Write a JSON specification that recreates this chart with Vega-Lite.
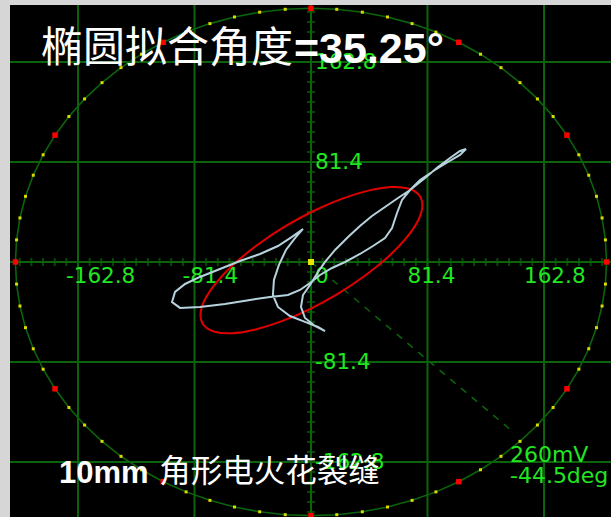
{
  "$schema": "https://vega.github.io/schema/vega-lite/v6.json",
  "width": 601,
  "height": 512,
  "autosize": {"type": "none"},
  "padding": {"left": 10, "top": 5, "right": 0, "bottom": 0},
  "background": "#d6d6d6",
  "config": {"view": {"stroke": null, "fill": "#000000"}, "axis": {"disable": true}},
  "datasets": {
    "grid": [{"v": -162.8}, {"v": -81.4}, {"v": 0}, {"v": 81.4}, {"v": 162.8}],
    "ticks": [{"v":-203.5},{"v":-195.36},{"v":-187.22},{"v":-179.08},{"v":-170.94},{"v":-162.8},{"v":-154.66},{"v":-146.52},{"v":-138.38},{"v":-130.24},{"v":-122.1},{"v":-113.96},{"v":-105.82},{"v":-97.68},{"v":-89.54},{"v":-81.4},{"v":-73.26},{"v":-65.12},{"v":-56.98},{"v":-48.84},{"v":-40.7},{"v":-32.56},{"v":-24.42},{"v":-16.28},{"v":-8.14},{"v":0},{"v":8.14},{"v":16.28},{"v":24.42},{"v":32.56},{"v":40.7},{"v":48.84},{"v":56.98},{"v":65.12},{"v":73.26},{"v":81.4},{"v":89.54},{"v":97.68},{"v":105.82},{"v":113.96},{"v":122.1},{"v":130.24},{"v":138.38},{"v":146.52},{"v":154.66},{"v":162.8},{"v":170.94},{"v":179.08},{"v":187.22},{"v":195.36},{"v":203.5}],
    "ring": [
      {"a":0,"x":206.5,"y":0,"c":"r"},{"a":5,"x":205.71,"y":18.0,"c":"y"},{"a":10,"x":203.36,"y":35.86,"c":"y"},{"a":15,"x":199.46,"y":53.45,"c":"y"},{"a":20,"x":194.05,"y":70.63,"c":"y"},{"a":25,"x":187.15,"y":87.27,"c":"y"},
      {"a":30,"x":178.83,"y":103.25,"c":"r"},{"a":35,"x":169.15,"y":118.44,"c":"y"},{"a":40,"x":158.19,"y":132.74,"c":"y"},{"a":45,"x":146.02,"y":146.02,"c":"y"},{"a":50,"x":132.74,"y":158.19,"c":"y"},{"a":55,"x":118.44,"y":169.15,"c":"y"},
      {"a":60,"x":103.25,"y":178.83,"c":"r"},{"a":65,"x":87.27,"y":187.15,"c":"y"},{"a":70,"x":70.63,"y":194.05,"c":"y"},{"a":75,"x":53.45,"y":199.46,"c":"y"},{"a":80,"x":35.86,"y":203.36,"c":"y"},{"a":85,"x":18.0,"y":205.71,"c":"y"},
      {"a":90,"x":0,"y":206.5,"c":"r"},{"a":95,"x":-18.0,"y":205.71,"c":"y"},{"a":100,"x":-35.86,"y":203.36,"c":"y"},{"a":105,"x":-53.45,"y":199.46,"c":"y"},{"a":110,"x":-70.63,"y":194.05,"c":"y"},{"a":115,"x":-87.27,"y":187.15,"c":"y"},
      {"a":120,"x":-103.25,"y":178.83,"c":"r"},{"a":125,"x":-118.44,"y":169.15,"c":"y"},{"a":130,"x":-132.74,"y":158.19,"c":"y"},{"a":135,"x":-146.02,"y":146.02,"c":"y"},{"a":140,"x":-158.19,"y":132.74,"c":"y"},{"a":145,"x":-169.15,"y":118.44,"c":"y"},
      {"a":150,"x":-178.83,"y":103.25,"c":"r"},{"a":155,"x":-187.15,"y":87.27,"c":"y"},{"a":160,"x":-194.05,"y":70.63,"c":"y"},{"a":165,"x":-199.46,"y":53.45,"c":"y"},{"a":170,"x":-203.36,"y":35.86,"c":"y"},{"a":175,"x":-205.71,"y":18.0,"c":"y"},
      {"a":180,"x":-206.5,"y":0,"c":"r"},{"a":185,"x":-205.71,"y":-18.0,"c":"y"},{"a":190,"x":-203.36,"y":-35.86,"c":"y"},{"a":195,"x":-199.46,"y":-53.45,"c":"y"},{"a":200,"x":-194.05,"y":-70.63,"c":"y"},{"a":205,"x":-187.15,"y":-87.27,"c":"y"},
      {"a":210,"x":-178.83,"y":-103.25,"c":"r"},{"a":215,"x":-169.15,"y":-118.44,"c":"y"},{"a":220,"x":-158.19,"y":-132.74,"c":"y"},{"a":225,"x":-146.02,"y":-146.02,"c":"y"},{"a":230,"x":-132.74,"y":-158.19,"c":"y"},{"a":235,"x":-118.44,"y":-169.15,"c":"y"},
      {"a":240,"x":-103.25,"y":-178.83,"c":"r"},{"a":245,"x":-87.27,"y":-187.15,"c":"y"},{"a":250,"x":-70.63,"y":-194.05,"c":"y"},{"a":255,"x":-53.45,"y":-199.46,"c":"y"},{"a":260,"x":-35.86,"y":-203.36,"c":"y"},{"a":265,"x":-18.0,"y":-205.71,"c":"y"},
      {"a":270,"x":0,"y":-206.5,"c":"r"},{"a":275,"x":18.0,"y":-205.71,"c":"y"},{"a":280,"x":35.86,"y":-203.36,"c":"y"},{"a":285,"x":53.45,"y":-199.46,"c":"y"},{"a":290,"x":70.63,"y":-194.05,"c":"y"},{"a":295,"x":87.27,"y":-187.15,"c":"y"},
      {"a":300,"x":103.25,"y":-178.83,"c":"r"},{"a":305,"x":118.44,"y":-169.15,"c":"y"},{"a":310,"x":132.74,"y":-158.19,"c":"y"},{"a":315,"x":146.02,"y":-146.02,"c":"y"},{"a":320,"x":158.19,"y":-132.74,"c":"y"},{"a":325,"x":169.15,"y":-118.44,"c":"y"},
      {"a":330,"x":178.83,"y":-103.25,"c":"r"},{"a":335,"x":187.15,"y":-87.27,"c":"y"},{"a":340,"x":194.05,"y":-70.63,"c":"y"},{"a":345,"x":199.46,"y":-53.45,"c":"y"},{"a":350,"x":203.36,"y":-35.86,"c":"y"},{"a":355,"x":205.71,"y":-18.0,"c":"y"}
    ],
    "fit": [
      {"i":0,"x":75.4,"y":54.6},{"i":1,"x":67.9,"y":59.8},{"i":2,"x":55.8,"y":61.0},{"i":3,"x":40.0,"y":58.1},{"i":4,"x":21.4,"y":51.4},{"i":5,"x":1.4,"y":41.3},
      {"i":6,"x":-18.7,"y":28.5},{"i":7,"x":-37.5,"y":13.8},{"i":8,"x":-53.8,"y":-1.7},{"i":9,"x":-66.3,"y":-17.0},{"i":10,"x":-74.3,"y":-31.0},{"i":11,"x":-77.2,"y":-42.8},
      {"i":12,"x":-74.8,"y":-51.6},{"i":13,"x":-67.3,"y":-56.8},{"i":14,"x":-55.2,"y":-58.0},{"i":15,"x":-39.4,"y":-55.1},{"i":16,"x":-20.8,"y":-48.4},{"i":17,"x":-0.8,"y":-38.3},
      {"i":18,"x":19.3,"y":-25.5},{"i":19,"x":38.1,"y":-10.8},{"i":20,"x":54.4,"y":4.7},{"i":21,"x":66.9,"y":20.0},{"i":22,"x":74.9,"y":34.0},{"i":23,"x":77.8,"y":45.8}
    ],
    "trace": [
      {"i":0,"x":-0.7,"y":-18.7},{"i":1,"x":4.9,"y":-8.1},{"i":2,"x":9.8,"y":0},{"i":3,"x":16.8,"y":9.8},{"i":4,"x":25.9,"y":20.4},{"i":5,"x":34.2,"y":29.3},
      {"i":6,"x":42.6,"y":37.4},{"i":7,"x":51.7,"y":44.8},{"i":8,"x":60.8,"y":52.1},{"i":9,"x":69.2,"y":58.6},{"i":10,"x":79.7,"y":68.4},{"i":11,"x":88.7,"y":77.3},
      {"i":12,"x":97.1,"y":84.7},{"i":13,"x":104.1,"y":90.4},{"i":14,"x":108.3,"y":92.0},{"i":15,"x":104.1,"y":87.1},{"i":16,"x":95.7,"y":81.4},{"i":17,"x":86.6,"y":74.9},
      {"i":18,"x":76.2,"y":66.7},{"i":19,"x":69.2,"y":58.6},{"i":20,"x":63.6,"y":50.5},{"i":21,"x":60.1,"y":39.9},{"i":22,"x":56.6,"y":27.7},{"i":23,"x":51.7,"y":19.5},
      {"i":24,"x":43.3,"y":13.0},{"i":25,"x":34.2,"y":6.5},{"i":26,"x":23.8,"y":0},{"i":27,"x":14.7,"y":-4.9},{"i":28,"x":6.3,"y":-10.6},{"i":29,"x":-0.7,"y":-17.1},
      {"i":30,"x":-7.7,"y":-22.8},{"i":31,"x":-16.1,"y":-26.9},{"i":32,"x":-28.6,"y":-28.5},{"i":33,"x":-42.6,"y":-30.9},{"i":34,"x":-60.1,"y":-34.2},{"i":35,"x":-77.6,"y":-36.6},
      {"i":36,"x":-91.5,"y":-37.4},{"i":37,"x":-97.1,"y":-32.6},{"i":38,"x":-95.0,"y":-24.4},{"i":39,"x":-88.0,"y":-17.9},{"i":40,"x":-77.6,"y":-12.2},{"i":41,"x":-63.6,"y":-5.7},
      {"i":42,"x":-49.6,"y":0.8},{"i":43,"x":-35.6,"y":6.5},{"i":44,"x":-23.1,"y":13.0},{"i":45,"x":-13.3,"y":20.4},{"i":46,"x":-5.6,"y":26.9},{"i":47,"x":-11.2,"y":19.5},
      {"i":48,"x":-17.5,"y":9.8},{"i":49,"x":-22.4,"y":-2.4},{"i":50,"x":-25.9,"y":-14.7},{"i":51,"x":-26.6,"y":-26.9},{"i":52,"x":-23.1,"y":-36.6},{"i":53,"x":-14.7,"y":-44.0},
      {"i":54,"x":-4.2,"y":-48.8},{"i":55,"x":4.9,"y":-52.9},{"i":56,"x":9.8,"y":-56.2},{"i":57,"x":2.8,"y":-52.1},{"i":58,"x":-4.2,"y":-45.6},{"i":59,"x":-7.0,"y":-36.6},
      {"i":60,"x":-5.6,"y":-26.9},{"i":61,"x":-0.7,"y":-18.7}
    ]
  },
  "layer": [
    {"data": {"name": "grid"}, "mark": {"type": "rule", "color": "#0b640b", "strokeWidth": 2},
     "encoding": {"x": {"field": "v", "type": "quantitative", "scale": {"domain": [-210.3, 209.6], "nice": false, "zero": false}, "axis": null}}},
    {"data": {"name": "grid"}, "mark": {"type": "rule", "color": "#0b640b", "strokeWidth": 2},
     "encoding": {"y": {"field": "v", "type": "quantitative", "scale": {"domain": [-207.6, 209.2], "nice": false, "zero": false}, "axis": null}}},
    {"data": {"name": "ticks"}, "mark": {"type": "tick", "orient": "vertical", "color": "#0b640b", "size": 8, "thickness": 2},
     "encoding": {"x": {"field": "v", "type": "quantitative"}, "y": {"datum": 0, "type": "quantitative"}}},
    {"data": {"name": "ticks"}, "mark": {"type": "tick", "orient": "horizontal", "color": "#0b640b", "size": 8, "thickness": 2},
     "encoding": {"y": {"field": "v", "type": "quantitative"}, "x": {"datum": 0, "type": "quantitative"}}},
    {"data": {"name": "ring"}, "mark": {"type": "line", "color": "#0b640b", "strokeWidth": 1.6, "interpolate": "linear-closed"},
     "encoding": {"x": {"field": "x", "type": "quantitative"}, "y": {"field": "y", "type": "quantitative"}, "order": {"field": "a", "type": "quantitative"}}},
    {"data": {"name": "ring"}, "transform": [{"filter": "datum.c == 'y'"}], "mark": {"type": "square", "color": "#dada00", "filled": true, "size": 9, "opacity": 1},
     "encoding": {"x": {"field": "x", "type": "quantitative"}, "y": {"field": "y", "type": "quantitative"}}},
    {"data": {"name": "ring"}, "transform": [{"filter": "datum.c == 'r'"}], "mark": {"type": "square", "color": "#ff0000", "filled": true, "size": 30, "opacity": 1},
     "encoding": {"x": {"field": "x", "type": "quantitative"}, "y": {"field": "y", "type": "quantitative"}}},
    {"data": {"values": [{"x": 0, "y": 0, "x2": 140.4, "y2": -137.6}]}, "mark": {"type": "rule", "color": "#0b640b", "strokeWidth": 1.5, "strokeDash": [7, 7]},
     "encoding": {"x": {"field": "x", "type": "quantitative"}, "y": {"field": "y", "type": "quantitative"}, "x2": {"field": "x2"}, "y2": {"field": "y2"}}},
    {"data": {"values": [{"v": -162.8, "t": "-162.8"}, {"v": -81.4, "t": "-81.4"}]},
     "mark": {"type": "text", "align": "left", "baseline": "alphabetic", "dx": -12, "dy": 21, "font": "DejaVu Sans", "fontSize": 21.5, "color": "#22e622"},
     "encoding": {"x": {"field": "v", "type": "quantitative"}, "y": {"datum": 0, "type": "quantitative"}, "text": {"field": "t"}}},
    {"data": {"values": [{"v": 0, "t": "0"}]},
     "mark": {"type": "text", "align": "left", "baseline": "alphabetic", "dx": 4, "dy": 21, "font": "DejaVu Sans", "fontSize": 21.5, "color": "#22e622"},
     "encoding": {"x": {"field": "v", "type": "quantitative"}, "y": {"datum": 0, "type": "quantitative"}, "text": {"field": "t"}}},
    {"data": {"values": [{"v": 81.4, "t": "81.4"}, {"v": 162.8, "t": "162.8"}]},
     "mark": {"type": "text", "align": "left", "baseline": "alphabetic", "dx": -20, "dy": 21, "font": "DejaVu Sans", "fontSize": 21.5, "color": "#22e622"},
     "encoding": {"x": {"field": "v", "type": "quantitative"}, "y": {"datum": 0, "type": "quantitative"}, "text": {"field": "t"}}},
    {"data": {"values": [{"v": 162.8, "t": "162.8"}, {"v": 81.4, "t": "81.4"}, {"v": -81.4, "t": "-81.4"}, {"v": -162.8, "t": "-162.8"}]},
     "mark": {"type": "text", "align": "left", "baseline": "alphabetic", "dx": 4, "dy": 7, "font": "DejaVu Sans", "fontSize": 21.5, "color": "#22e622"},
     "encoding": {"y": {"field": "v", "type": "quantitative"}, "x": {"datum": 0, "type": "quantitative"}, "text": {"field": "t"}}},
    {"data": {"values": [{"x": 139.0, "y": -162.8, "t": "260mV"}, {"x": 139.0, "y": -179.9, "t": "-44.5deg"}]},
     "mark": {"type": "text", "align": "left", "baseline": "alphabetic", "font": "DejaVu Sans", "fontSize": 22, "color": "#22e622"},
     "encoding": {"x": {"field": "x", "type": "quantitative"}, "y": {"field": "y", "type": "quantitative"}, "text": {"field": "t"}}},
    {"data": {"name": "fit"}, "mark": {"type": "line", "color": "#e00000", "strokeWidth": 2, "interpolate": "cardinal-closed"},
     "encoding": {"x": {"field": "x", "type": "quantitative"}, "y": {"field": "y", "type": "quantitative"}, "order": {"field": "i", "type": "quantitative"}}},
    {"data": {"name": "trace"}, "mark": {"type": "line", "color": "#b6d3dd", "strokeWidth": 2},
     "encoding": {"x": {"field": "x", "type": "quantitative"}, "y": {"field": "y", "type": "quantitative"}, "order": {"field": "i", "type": "quantitative"}}},
    {"data": {"values": [{"x": 0, "y": 0}]}, "mark": {"type": "square", "color": "#e6e600", "filled": true, "size": 36, "opacity": 1},
     "encoding": {"x": {"field": "x", "type": "quantitative"}, "y": {"field": "y", "type": "quantitative"}}},
    {"data": {"values": [{"x": -188.6, "y": 162.5, "t": "椭圆拟合角度"}]},
     "mark": {"type": "text", "align": "left", "baseline": "alphabetic", "font": "Noto Sans CJK SC", "fontSize": 42, "color": "#ffffff"},
     "encoding": {"x": {"field": "x", "type": "quantitative"}, "y": {"field": "y", "type": "quantitative"}, "text": {"field": "t"}}},
    {"data": {"values": [{"x": -11.9, "y": 162.0, "t": "=35.25°"}]},
     "mark": {"type": "text", "align": "left", "baseline": "alphabetic", "font": "Liberation Sans", "fontWeight": "bold", "fontSize": 43, "color": "#ffffff"},
     "encoding": {"x": {"field": "x", "type": "quantitative"}, "y": {"field": "y", "type": "quantitative"}, "text": {"field": "t"}}},
    {"data": {"values": [{"x": -176.1, "y": -179.9, "t": "10mm"}]},
     "mark": {"type": "text", "align": "left", "baseline": "alphabetic", "font": "Liberation Sans", "fontWeight": "bold", "fontSize": 31, "color": "#ffffff"},
     "encoding": {"x": {"field": "x", "type": "quantitative"}, "y": {"field": "y", "type": "quantitative"}, "text": {"field": "t"}}},
    {"data": {"values": [{"x": -106.0, "y": -179.0, "t": "角形电火花裂缝"}]},
     "mark": {"type": "text", "align": "left", "baseline": "alphabetic", "font": "Noto Sans CJK SC", "fontSize": 31.5, "color": "#ffffff"},
     "encoding": {"x": {"field": "x", "type": "quantitative"}, "y": {"field": "y", "type": "quantitative"}, "text": {"field": "t"}}}
  ]
}
